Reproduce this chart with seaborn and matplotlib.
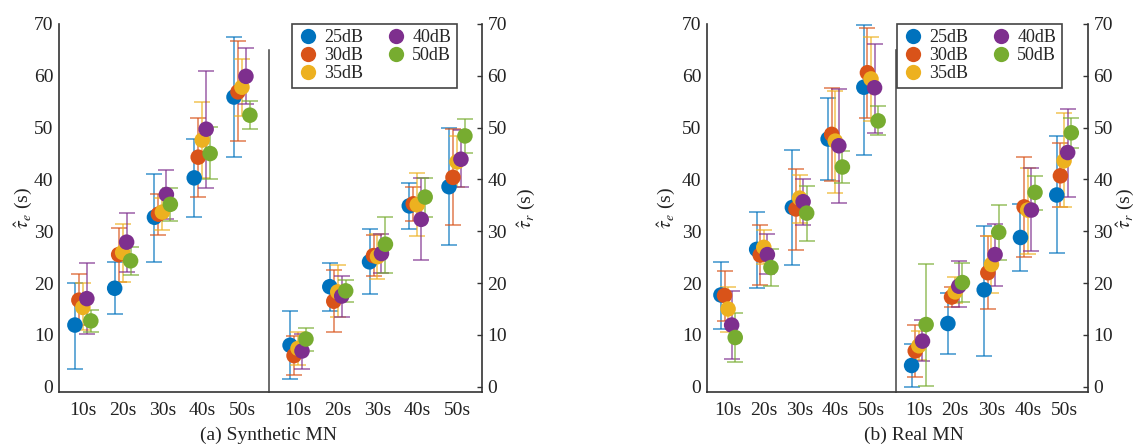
import seaborn as sns
import matplotlib.pyplot as plt
import pandas as pd
from matplotlib.lines import Line2D

categories = ["10s", "20s", "30s", "40s", "50s"]
snr_levels = ["25dB", "30dB", "35dB", "40dB", "50dB"]
colors = ["#0072BD", "#D95319", "#EDB120", "#7E2F8E", "#77AC30"]

# rows = snr level, cols = category
syn_te_mean = [[11.9, 19.0, 32.7, 40.3, 55.9],
               [16.7, 25.5, 33.3, 44.3, 56.9],
               [15.3, 25.9, 33.7, 47.6, 57.8],
               [17.0, 27.9, 37.1, 49.7, 59.9],
               [12.7, 24.3, 35.2, 45.0, 52.4]]
syn_te_low = [[3.5, 14.1, 24.1, 32.8, 44.3],
              [11.9, 20.3, 29.3, 36.7, 47.4],
              [10.9, 20.2, 30.2, 40.2, 52.3],
              [10.2, 22.2, 32.4, 38.3, 54.5],
              [10.6, 21.6, 31.9, 40.0, 49.7]]
syn_te_high = [[20.1, 24.1, 41.0, 47.9, 67.4],
               [21.7, 30.7, 37.2, 51.8, 66.7],
               [20.0, 31.4, 36.5, 55.0, 63.2],
               [23.8, 33.5, 41.8, 61.0, 65.3],
               [14.9, 26.9, 38.4, 50.1, 55.1]]

syn_tr_mean = [[8.0, 19.3, 24.1, 34.9, 38.6],
               [6.0, 16.5, 25.3, 35.3, 40.4],
               [7.4, 18.3, 25.1, 35.1, 43.4],
               [6.9, 17.5, 25.7, 32.3, 43.9],
               [9.2, 18.5, 27.5, 36.6, 48.4]]
syn_tr_low = [[1.5, 14.7, 17.9, 30.4, 27.3],
              [2.3, 10.5, 21.4, 32.0, 31.3],
              [4.2, 13.4, 20.7, 29.1, 38.6],
              [3.5, 13.4, 22.0, 24.5, 38.5],
              [6.9, 16.3, 22.0, 32.7, 45.2]]
syn_tr_high = [[14.7, 23.9, 30.4, 39.4, 49.9],
               [9.7, 22.5, 29.3, 38.6, 49.7],
               [10.6, 23.4, 29.4, 41.3, 48.4],
               [10.2, 21.4, 29.5, 40.2, 49.5],
               [11.4, 20.6, 32.8, 40.3, 51.6]]

real_te_mean = [[17.7, 26.5, 34.6, 47.8, 57.8],
                [17.6, 25.4, 34.3, 48.7, 60.6],
                [15.0, 26.9, 36.4, 47.4, 59.4],
                [11.9, 25.5, 35.7, 46.5, 57.7],
                [9.5, 23.0, 33.5, 42.4, 51.3]]
real_te_low = [[11.1, 19.0, 23.4, 39.9, 44.7],
               [12.7, 19.6, 26.3, 39.7, 51.8],
               [10.6, 23.6, 31.5, 37.3, 51.3],
               [5.3, 21.7, 31.3, 35.5, 49.0],
               [4.7, 19.4, 28.2, 39.4, 48.6]]
real_te_high = [[24.1, 33.7, 45.7, 55.8, 69.9],
                [22.4, 31.2, 42.0, 57.6, 69.2],
                [19.3, 30.2, 40.9, 57.1, 67.4],
                [18.4, 29.5, 40.1, 57.5, 66.2],
                [14.3, 26.6, 38.7, 45.5, 54.2]]

real_tr_mean = [[4.1, 12.2, 18.7, 28.8, 37.0],
                [6.9, 17.3, 22.0, 34.7, 40.7],
                [7.9, 18.3, 23.6, 34.1, 43.6],
                [8.8, 19.4, 25.5, 34.1, 45.2],
                [12.0, 20.1, 29.8, 37.5, 49.0]]
real_tr_low = [[0.0, 6.4, 5.9, 22.4, 25.8],
               [1.8, 15.3, 15.0, 25.1, 34.7],
               [5.2, 16.2, 18.1, 25.6, 34.6],
               [5.0, 15.4, 19.4, 26.1, 36.7],
               [0.2, 16.3, 24.5, 34.1, 46.0]]
real_tr_high = [[8.2, 18.1, 31.1, 35.3, 48.3],
                [11.9, 19.2, 29.0, 44.3, 47.0],
                [10.8, 21.1, 29.0, 42.3, 52.9],
                [12.9, 24.3, 31.4, 42.2, 53.5],
                [23.6, 23.9, 35.1, 40.7, 51.9]]

offsets = [-0.2, -0.1, 0.0, 0.1, 0.2]

sns.set_theme(style="white")
plt.rcParams["font.family"] = ["Liberation Serif", "DejaVu Serif"]
plt.rcParams["mathtext.fontset"] = "stix"

spine_col = "#333333"
ylim = (-1.02, 70)


def make_df(mean, low, high):
    rows = []
    for i, snr in enumerate(snr_levels):
        for j, cat in enumerate(categories):
            rows.append({"snr": snr, "cat": cat, "x": j + 1 + offsets[i],
                         "mean": mean[i][j], "low": low[i][j], "high": high[i][j]})
    return pd.DataFrame(rows)


def draw(ax, mean, low, high, xlim, side):
    df = make_df(mean, low, high)
    for snr, c in zip(snr_levels, colors):
        sub = df[df.snr == snr]
        ax.errorbar(sub.x, sub["mean"], yerr=[sub["mean"] - sub.low, sub.high - sub["mean"]],
                    fmt="none", ecolor=c, alpha=0.7, elinewidth=1.2, capsize=6, capthick=1.2,
                    zorder=2)
    sns.scatterplot(data=df, x="x", y="mean", hue="snr", palette=colors, s=125,
                    edgecolor="none", linewidth=0, legend=False, ax=ax, zorder=3)
    ax.set_xlim(xlim)
    ax.set_ylim(ylim)
    ax.set_xticks(range(1, 6))
    ax.set_xticklabels(categories)
    ax.set_yticks(range(0, 71, 10))
    ax.set_xlabel("")
    ax.patch.set_alpha(0)
    ax.tick_params(axis="both", direction="in", length=3.5, width=1, color=spine_col,
                   labelsize=14, labelcolor="#222222", pad=4)
    ax.tick_params(axis="x", pad=7)
    for s in ax.spines.values():
        s.set_color(spine_col)
        s.set_linewidth(1.2)
    ax.spines["top"].set_visible(False)
    if side == "left":
        ax.spines["right"].set_bounds(ylim[0], 65)
        ax.spines["right"].set_color("#444444")
        ax.spines["right"].set_linewidth(1.1)
        ax.spines["right"].set_zorder(5)
        ax.set_ylabel(r"$\hat{\tau}_e$ (s)", fontsize=14, color="#222222")
    else:
        ax.spines["left"].set_visible(False)
        ax.yaxis.tick_right()
        ax.yaxis.set_label_position("right")
        ax.set_ylabel(r"$\hat{\tau}_r$ (s)", fontsize=14, color="#222222")


fig = plt.figure(figsize=(11.37, 4.46), dpi=100)
W, H = 1137, 446
bot = 1 - 392 / H
hgt = 368 / H

ax2 = fig.add_axes([269 / W, bot, 213 / W, hgt])
ax1 = fig.add_axes([59 / W, bot, 210 / W, hgt])
ax4 = fig.add_axes([896 / W, bot, 192 / W, hgt])
ax3 = fig.add_axes([707 / W, bot, 189 / W, hgt])

draw(ax1, syn_te_mean, syn_te_low, syn_te_high, (0.4, 5.68), "left")
draw(ax2, syn_tr_mean, syn_tr_low, syn_tr_high, (0.27, 5.63), "right")
draw(ax3, real_te_mean, real_te_low, real_te_high, (0.41, 5.7), "left")
draw(ax4, real_tr_mean, real_tr_low, real_tr_high, (0.37, 5.66), "right")

ax1.yaxis.set_label_coords(-0.115, 0.5)
ax3.yaxis.set_label_coords(-0.155, 0.5)
ax2.yaxis.set_label_coords(1.16, 0.5)
ax4.yaxis.set_label_coords(1.138, 0.5)

handles = [Line2D([], [], marker="o", ls="", color=c, markersize=11, markeredgewidth=0)
           for c in colors]
for ax, x0 in [(ax2, 0.108), (ax4, 0.005)]:
    leg = ax.legend(handles, snr_levels, ncol=2, loc="upper left", bbox_to_anchor=(x0, 1.0),
                    borderaxespad=0, fontsize=13, frameon=True, fancybox=False, framealpha=1,
                    edgecolor="#444444", labelspacing=0.05, handletextpad=0.3,
                    columnspacing=1.2, borderpad=0.3, handlelength=1.2)
    leg.get_frame().set_linewidth(1.2)
    leg.set_zorder(6)

fig.text(268 / W, 0.025, "(a) Synthetic MN", ha="center", va="center", fontsize=14,
         color="#222222")
fig.text(914 / W, 0.025, "(b) Real MN", ha="center", va="center", fontsize=14,
         color="#222222")

fig.savefig("out.png", dpi=100)
